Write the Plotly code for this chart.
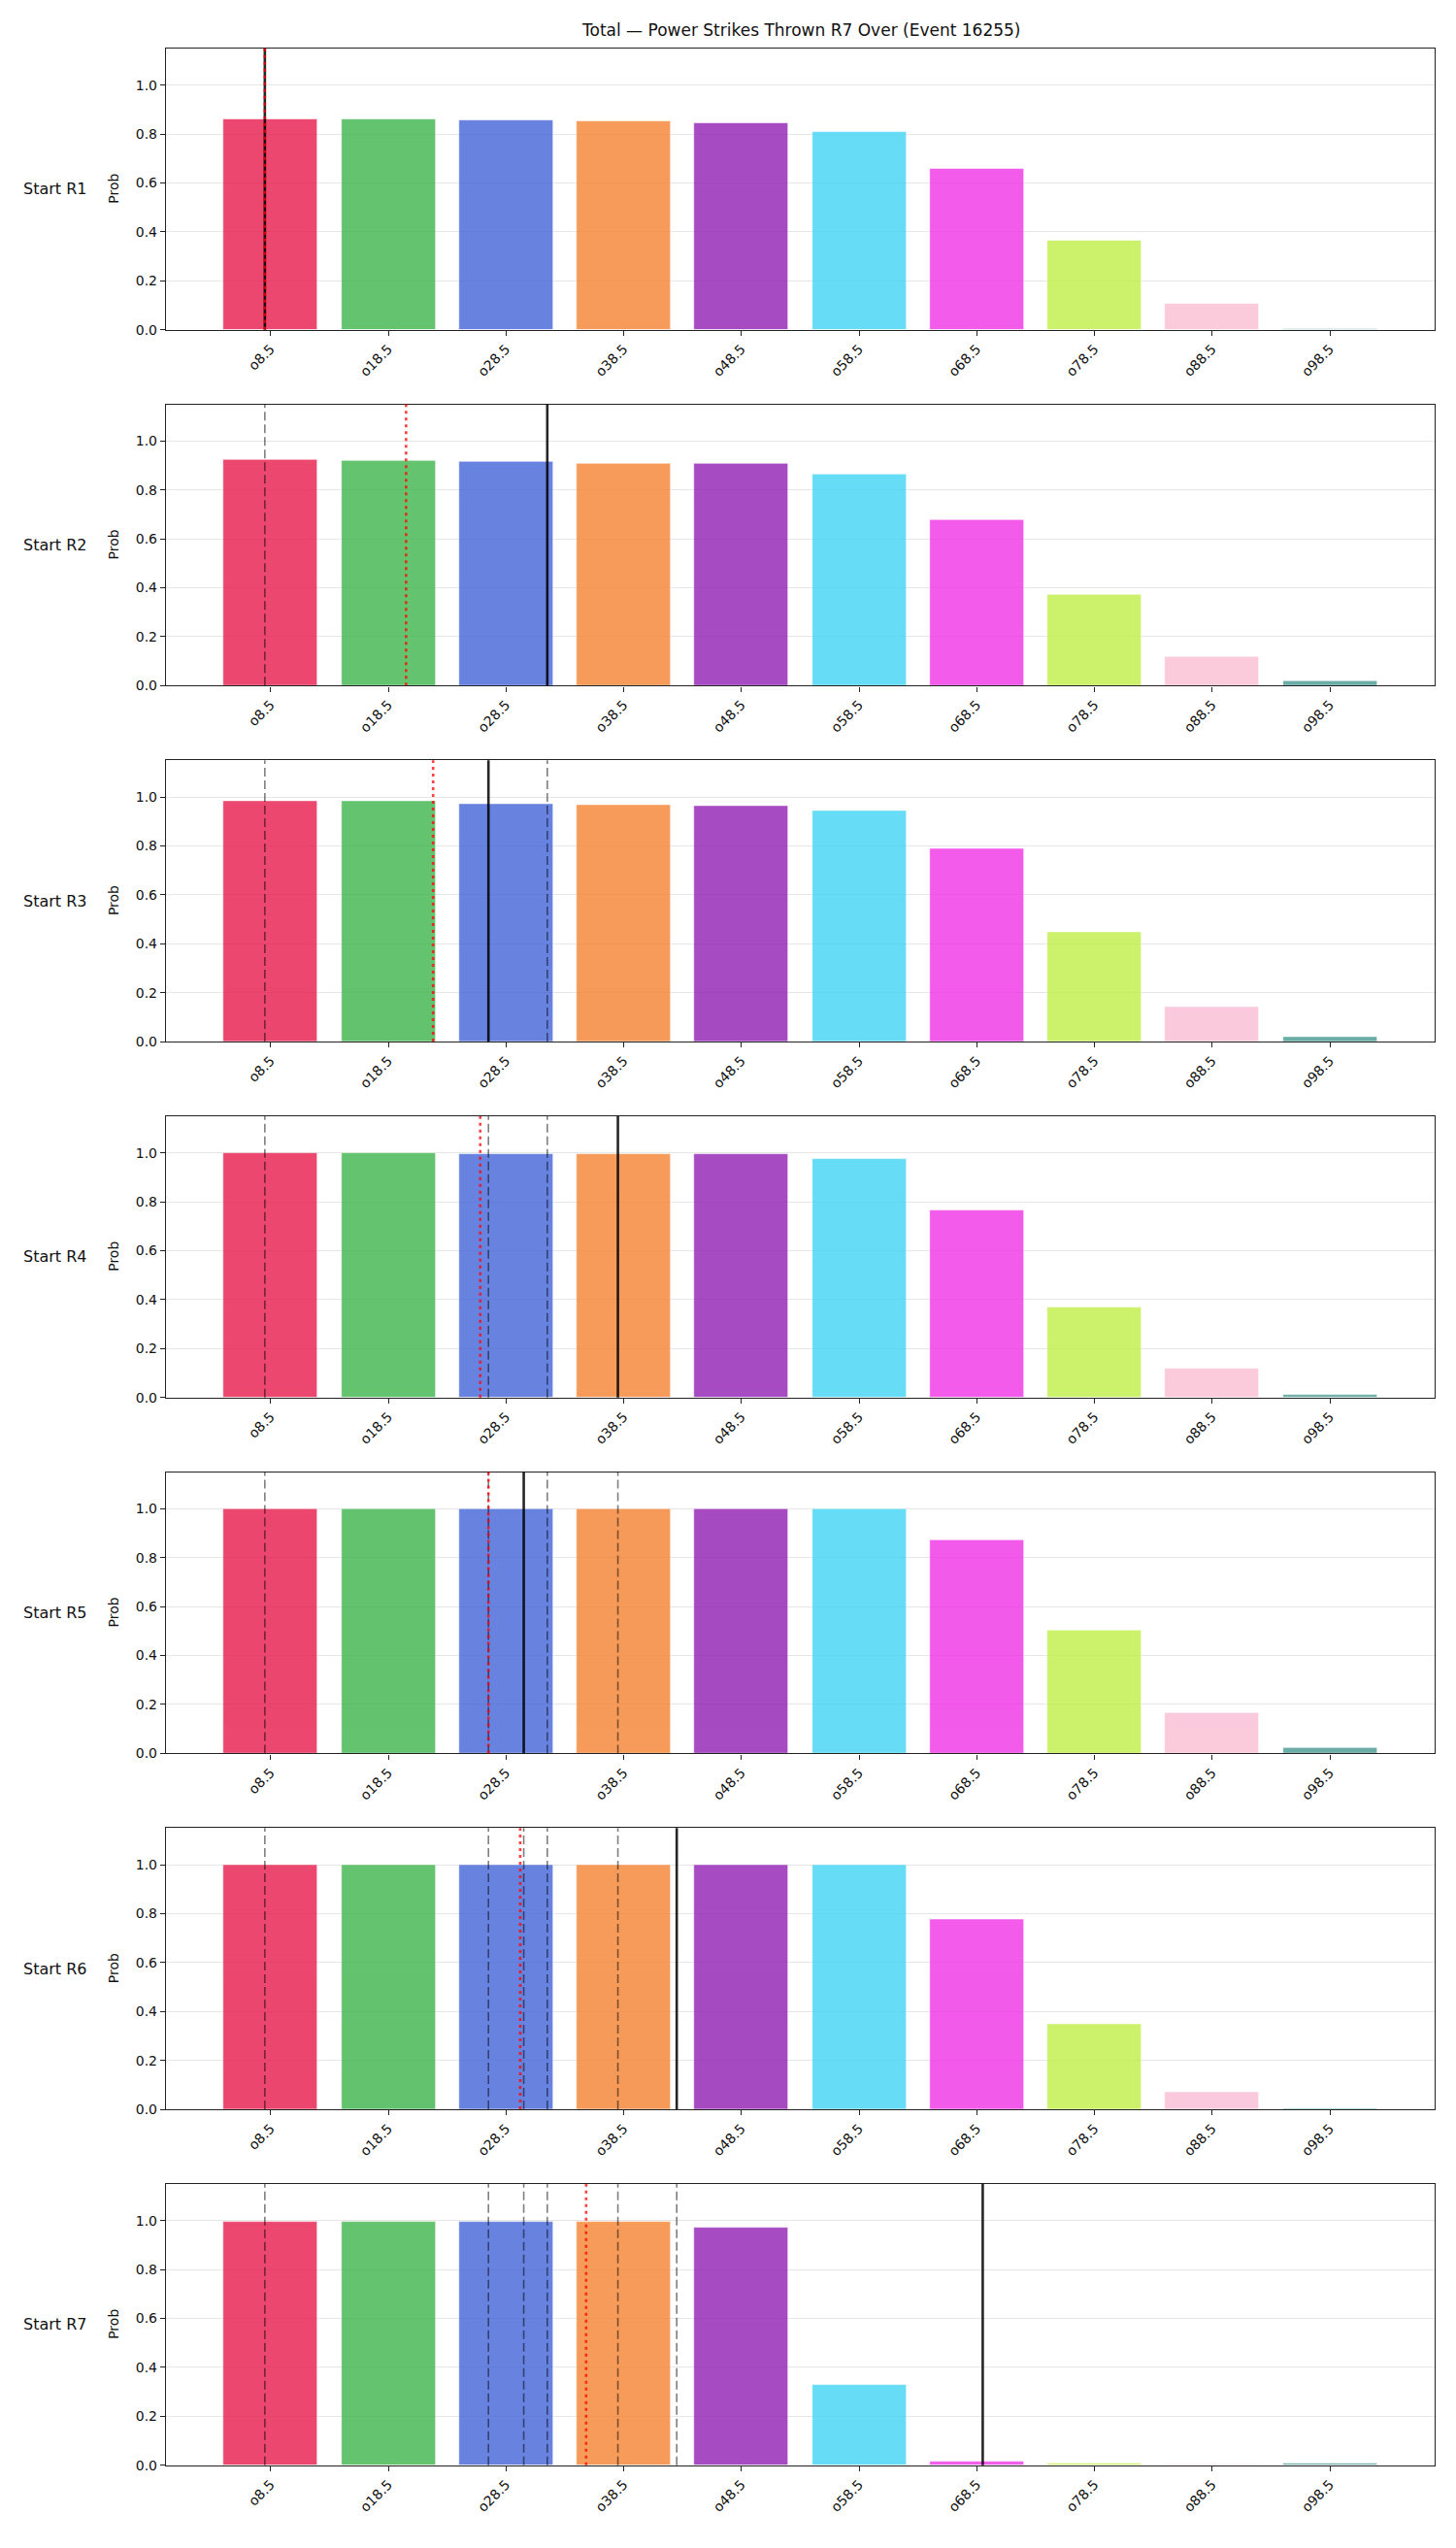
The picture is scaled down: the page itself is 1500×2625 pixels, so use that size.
import plotly.graph_objects as go

# ---------------- data ----------------
thresholds = [8.5, 18.5, 28.5, 38.5, 48.5, 58.5, 68.5, 78.5, 88.5, 98.5]
tick_labels = ["o8.5", "o18.5", "o28.5", "o38.5", "o48.5", "o58.5", "o68.5", "o78.5", "o88.5", "o98.5"]
row_labels = ["Start R1", "Start R2", "Start R3", "Start R4", "Start R5", "Start R6", "Start R7"]

prob_r1 = [0.859, 0.859, 0.855, 0.851, 0.843, 0.807, 0.657, 0.363, 0.106, 0.005]
prob_r2 = [0.925, 0.921, 0.917, 0.909, 0.909, 0.865, 0.679, 0.374, 0.119, 0.020]
prob_r3 = [0.984, 0.984, 0.972, 0.968, 0.965, 0.943, 0.787, 0.447, 0.144, 0.018]
prob_r4 = [0.998, 0.998, 0.997, 0.997, 0.996, 0.977, 0.766, 0.370, 0.117, 0.011]
prob_r5 = [0.999, 0.999, 0.999, 0.999, 0.998, 0.998, 0.872, 0.504, 0.167, 0.023]
prob_r6 = [0.999, 0.999, 0.999, 0.999, 0.998, 0.998, 0.779, 0.347, 0.069, 0.002]
prob_r7 = [0.997, 0.997, 0.997, 0.997, 0.970, 0.329, 0.014, 0.007, 0.005, 0.007]
probs = [prob_r1, prob_r2, prob_r3, prob_r4, prob_r5, prob_r6, prob_r7]

# strikes thrown per round (solid line = current round, dashed = earlier rounds)
round_strikes = [8, 32, 27, 38, 30, 43, 69]
# running average shown as red dotted line
running_avg = [8.0, 20.0, 22.3, 26.3, 27.0, 29.7, 35.3]

bar_colors = ["#e6194b", "#3cb44b", "#4363d8", "#f58231", "#911eb4",
              "#42d4f4", "#f032e6", "#bfef45", "#fabed4", "#469990"]

title_text = "Total \u2014 Power Strikes Thrown R7 Over (Event 16255)"

# ---------------- layout geometry ----------------
W, H = 1500, 2625
x_left, x_right = 171, 1478
top0, period, ax_h = 50.0, 367.8, 290.7
FONT = "DejaVu Sans"

fig = go.Figure()
layout = dict(
    width=W, height=H, margin=dict(l=0, r=0, t=0, b=0),
    paper_bgcolor="white", plot_bgcolor="white",
    showlegend=False, font=dict(family=FONT, color="#111", size=14),
    bargap=0,
)
shapes = []
annotations = []

for i, vals in enumerate(probs):
    n = i + 1
    xa = "x" if n == 1 else f"x{n}"
    ya = "y" if n == 1 else f"y{n}"
    top = top0 + period * i
    bot = top + ax_h
    dom_y = [1 - bot / H, 1 - top / H]
    fig.add_trace(go.Bar(
        x=thresholds, y=vals, width=8,
        marker=dict(color=bar_colors, opacity=0.8, line=dict(color="white", width=0.6)),
        xaxis=xa, yaxis=ya, hoverinfo="skip",
    ))
    layout["xaxis" if n == 1 else f"xaxis{n}"] = dict(
        domain=[x_left / W, x_right / W], anchor=ya, range=[-0.4, 107.4],
        tickmode="array", tickvals=thresholds, ticktext=tick_labels, tickangle=-45,
        ticks="outside", ticklen=5, tickwidth=1.2, tickcolor="#222",
        showline=True, linecolor="#222", linewidth=1.4, mirror=True,
        showgrid=False, zeroline=False, tickfont=dict(size=14, family=FONT, color="#111"),
        fixedrange=True,
    )
    layout["yaxis" if n == 1 else f"yaxis{n}"] = dict(
        domain=dom_y, anchor=xa, range=[0, 1.15],
        tickmode="array", tickvals=[0, 0.2, 0.4, 0.6, 0.8, 1.0],
        ticktext=["0.0", "0.2", "0.4", "0.6", "0.8", "1.0"],
        ticks="outside", ticklen=5, tickwidth=1.2, tickcolor="#222",
        showline=True, linecolor="#222", linewidth=1.4, mirror=True,
        showgrid=True, gridcolor="#e6e6e6", gridwidth=1, zeroline=False,
        tickfont=dict(size=14, family=FONT, color="#111"), fixedrange=True,
    )
    yref_dom = f"{ya} domain"
    # earlier rounds: gray dashed
    for j in range(i):
        shapes.append(dict(type="line", xref=xa, yref=yref_dom,
                           x0=round_strikes[j], x1=round_strikes[j], y0=0, y1=1,
                           line=dict(color="rgba(0,0,0,0.5)", width=1.6, dash="9px,4px")))
    # current round: black solid
    shapes.append(dict(type="line", xref=xa, yref=yref_dom,
                       x0=round_strikes[i], x1=round_strikes[i], y0=0, y1=1,
                       line=dict(color="rgba(0,0,0,0.85)", width=2.6)))
    # running average: red dotted
    shapes.append(dict(type="line", xref=xa, yref=yref_dom,
                       x0=running_avg[i], x1=running_avg[i], y0=0, y1=1,
                       line=dict(color="rgba(255,0,0,0.75)", width=2.6, dash="3px,4px")))
    yc = 1 - (top + bot) / 2 / H
    annotations.append(dict(text=row_labels[i], xref="paper", yref="paper",
                            x=56 / W, y=yc, xanchor="center", yanchor="middle",
                            showarrow=False, font=dict(size=16, family=FONT, color="#111")))
    annotations.append(dict(text="Prob", xref="paper", yref="paper",
                            x=117 / W, y=yc, xanchor="center", yanchor="middle",
                            textangle=-90, showarrow=False,
                            font=dict(size=14, family=FONT, color="#111")))

annotations.append(dict(text=title_text, xref="paper", yref="paper",
                        x=(x_left + x_right) / 2 / W, y=1 - 31 / H,
                        xanchor="center", yanchor="middle", showarrow=False,
                        font=dict(size=17, family=FONT, color="#111")))

layout["shapes"] = shapes
layout["annotations"] = annotations
fig.update_layout(**layout)
fig.write_html("out.html")
